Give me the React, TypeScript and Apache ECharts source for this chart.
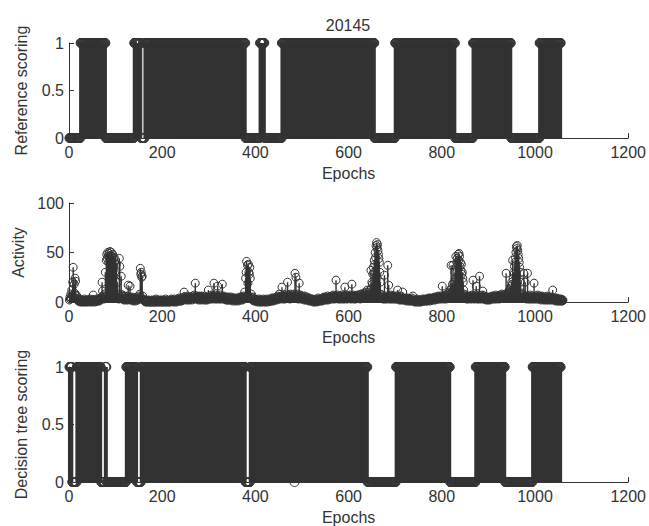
import React, { useEffect, useRef } from 'react';
import * as echarts from 'echarts';

const TITLE = '20145';
const X_LABEL = 'Epochs';
const Y_LABELS = ['Reference scoring', 'Activity', 'Decision tree scoring'];

// Reference scoring: epochs scored 1 (inclusive runs), recording length
const REF_LENGTH = 1055;
const refOnStart = [25, 140, 163, 410, 457, 700, 867, 1010];
const refOnEnd = [78, 154, 378, 419, 655, 828, 948, 1055];

// Decision tree scoring: epochs scored 1 (inclusive runs)
const DT_LENGTH = 1055;
const dtOnStart = [1, 17, 78, 123, 155, 389, 485, 702, 873, 995];
const dtOnEnd = [6, 68, 80, 145, 378, 483, 640, 817, 935, 1055];

// Activity per epoch (epoch 1..N), 20 epochs per line
const activity = [
  2, 5, 3, 8, 4, 12, 6, 20, 35, 5, 18, 9, 24, 21, 7, 4, 6, 3, 2, 1,
  2, 1, 3, 0, 1, 2, 1, 0, 2, 1, 0, 1, 3, 1, 0, 2, 1, 0, 1, 2,
  1, 0, 2, 1, 3, 1, 0, 2, 1, 2, 0, 7, 1, 2, 1, 0, 2, 1, 3, 1,
  2, 1, 3, 2, 1, 3, 2, 4, 3, 5, 20, 11, 4, 6, 3, 8, 5, 30, 6, 42,
  48, 44, 50, 46, 40, 49, 45, 51, 47, 43, 50, 46, 38, 48, 44, 36, 45, 40, 28, 42,
  6, 38, 5, 20, 4, 7, 3, 44, 36, 5, 8, 26, 6, 4, 7, 3, 5, 2, 6, 3,
  4, 2, 5, 3, 6, 2, 17, 4, 3, 5, 16, 2, 4, 3, 5, 2, 4, 1, 3, 2,
  2, 4, 1, 3, 2, 5, 3, 2, 6, 3, 4, 8, 34, 28, 30, 25, 26, 6, 3, 2,
  2, 1, 1, 0, 1, 2, 0, 1, 0, 1, 2, 0, 1, 0, 0, 1, 0, 2, 1, 0,
  0, 1, 2, 0, 1, 0, 3, 1, 0, 2, 1, 0, 1, 0, 2, 1, 0, 1, 2, 0,
  1, 0, 2, 1, 0, 1, 3, 0, 1, 0, 2, 1, 0, 1, 0, 2, 1, 0, 1, 3,
  2, 1, 0, 2, 1, 3, 0, 1, 2, 1, 0, 2, 3, 1, 2, 4, 1, 3, 2, 1,
  1, 3, 2, 4, 2, 5, 10, 3, 4, 2, 5, 3, 4, 6, 2, 3, 5, 2, 4, 3,
  5, 3, 4, 2, 6, 4, 5, 3, 7, 4, 19, 5, 3, 4, 6, 3, 5, 2, 4, 6,
  3, 5, 2, 4, 6, 3, 5, 4, 2, 3, 6, 4, 2, 5, 3, 4, 2, 3, 12, 5,
  4, 6, 3, 5, 4, 7, 3, 5, 6, 4, 19, 5, 3, 7, 4, 6, 3, 5, 16, 4,
  6, 3, 5, 4, 7, 3, 5, 4, 18, 5, 3, 6, 4, 5, 3, 4, 2, 5, 3, 2,
  4, 2, 5, 3, 2, 4, 3, 5, 2, 3, 1, 4, 2, 3, 4, 2, 1, 3, 2, 4,
  2, 3, 1, 4, 2, 3, 5, 2, 4, 3, 5, 2, 4, 6, 3, 5, 10, 4, 24, 30,
  41, 6, 37, 19, 38, 30, 28, 35, 24, 5, 8, 3, 4, 2, 5, 3, 1, 2, 3, 1,
  2, 1, 2, 0, 1, 2, 1, 3, 0, 2, 1, 0, 1, 2, 0, 1, 3, 1, 2, 0,
  1, 2, 0, 1, 3, 2, 1, 0, 2, 1, 3, 2, 1, 1, 4, 2, 3, 1, 4, 2,
  3, 2, 4, 3, 5, 2, 4, 6, 3, 5, 8, 4, 3, 5, 6, 4, 15, 5, 3, 6,
  4, 7, 3, 5, 6, 4, 8, 5, 20, 6, 4, 7, 5, 3, 6, 8, 4, 5, 7, 4,
  6, 5, 8, 4, 29, 6, 25, 7, 5, 4, 8, 3, 6, 19, 5, 4, 7, 3, 5, 4,
  6, 3, 5, 4, 2, 6, 3, 4, 2, 5, 3, 4, 2, 3, 1, 4, 2, 3, 1, 2,
  2, 1, 3, 0, 2, 1, 0, 2, 1, 3, 1, 0, 2, 1, 4, 2, 1, 3, 2, 1,
  2, 3, 1, 4, 2, 3, 5, 2, 4, 3, 5, 2, 4, 3, 6, 2, 4, 3, 5, 4,
  3, 5, 4, 6, 3, 5, 7, 4, 6, 3, 5, 4, 22, 6, 4, 5, 7, 3, 6, 4,
  5, 3, 6, 4, 7, 5, 3, 6, 4, 5, 3, 15, 6, 4, 5, 7, 3, 6, 4, 5,
  6, 4, 7, 5, 3, 6, 18, 4, 5, 7, 3, 6, 4, 5, 3, 6, 4, 7, 5, 4,
  6, 4, 7, 5, 3, 8, 5, 6, 4, 7, 5, 9, 6, 4, 8, 5, 7, 10, 6, 12,
  6, 8, 5, 10, 7, 12, 9, 32, 14, 20, 18, 28, 35, 30, 42, 38, 50, 45, 57, 60,
  55, 58, 52, 48, 44, 40, 30, 20, 8, 5, 7, 4, 6, 3, 5, 4, 27, 3, 5, 4,
  6, 3, 5, 37, 4, 17, 6, 3, 5, 4, 7, 3, 6, 4, 5, 3, 6, 4, 5, 3,
  4, 6, 3, 5, 12, 4, 3, 5, 2, 4, 3, 6, 2, 4, 3, 10, 2, 4, 3, 2,
  3, 2, 4, 1, 3, 2, 4, 2, 1, 3, 2, 1, 3, 2, 1, 4, 2, 6, 1, 2,
  1, 0, 2, 1, 0, 1, 3, 1, 0, 2, 1, 0, 1, 2, 0, 1, 2, 1, 3, 1,
  1, 2, 3, 1, 2, 1, 3, 2, 1, 3, 2, 4, 2, 3, 1, 4, 2, 3, 2, 4,
  3, 2, 4, 3, 5, 2, 4, 3, 5, 4, 3, 6, 4, 3, 5, 4, 6, 3, 5, 4,
  16, 4, 6, 3, 5, 4, 7, 5, 3, 6, 4, 8, 5, 7, 10, 6, 9, 12, 8, 37,
  14, 10, 18, 37, 12, 20, 15, 30, 24, 46, 35, 40, 44, 38, 48, 42, 49, 46, 36, 40,
  32, 38, 28, 30, 24, 20, 12, 8, 6, 4, 7, 5, 3, 6, 4, 5, 3, 6, 4, 5,
  4, 6, 3, 5, 7, 4, 22, 5, 3, 6, 4, 5, 7, 16, 3, 5, 4, 6, 3, 5,
  26, 4, 6, 3, 5, 4, 7, 11, 3, 5, 4, 6, 3, 5, 2, 4, 3, 5, 2, 4,
  3, 5, 2, 4, 3, 5, 4, 6, 3, 5, 4, 6, 3, 5, 4, 7, 3, 5, 4, 6,
  4, 6, 3, 5, 7, 4, 6, 5, 8, 4, 6, 5, 7, 4, 6, 8, 5, 29, 7, 6,
  9, 7, 10, 8, 12, 9, 14, 11, 16, 20, 18, 42, 24, 30, 28, 36, 40, 45, 50, 56,
  54, 57, 52, 48, 44, 40, 35, 30, 20, 8, 6, 9, 5, 7, 4, 29, 6, 5, 20, 4,
  6, 3, 5, 29, 4, 6, 3, 5, 4, 7, 3, 5, 4, 6, 3, 5, 4, 19, 3, 5,
  4, 6, 3, 5, 4, 7, 3, 5, 4, 6, 3, 5, 2, 4, 6, 3, 5, 4, 2, 4,
  3, 5, 2, 4, 3, 6, 2, 4, 3, 5, 2, 4, 3, 5, 2, 4, 3, 12, 2, 4,
  3, 2, 4, 1, 3, 2, 4, 1, 3, 2, 1, 3, 2, 1, 2, 3, 1, 2, 1, 2,
];

const X_MIN = 0;
const X_MAX = 1200;
const X_INTERVAL = 200;

const INK = '#333333';
const FONT = '"Liberation Sans", Arial, Helvetica, sans-serif';
const FS = 16;

function expandRuns(starts: number[], ends: number[], n: number): number[] {
  const out: number[] = [];
  for (let e = 1; e <= n; e++) {
    let v = 0;
    for (let k = 0; k < starts.length; k++) {
      if (e >= starts[k] && e <= ends[k]) v = 1;
    }
    out.push(v);
  }
  return out;
}

export default function App() {
  const ref = useRef<HTMLDivElement>(null);

  useEffect(() => {
    document.body.style.margin = '0';
    if (!ref.current) return;
    const chart = echarts.init(ref.current, undefined, { renderer: 'svg' });

    const refVals = expandRuns(refOnStart, refOnEnd, REF_LENGTH);
    const dtVals = expandRuns(dtOnStart, dtOnEnd, DT_LENGTH);
    const panels = [
      { vals: refVals, max: 1, interval: 0.5, stem: 3, size: 9 },
      { vals: activity, max: 100, interval: 50, stem: 1.4, size: 8 },
      { vals: dtVals, max: 1, interval: 0.5, stem: 3, size: 9 },
    ];
    const grids = [
      { left: 69, right: 20, top: 43, height: 95 },
      { left: 69, right: 20, top: 203, height: 99 },
      { left: 69, right: 20, top: 367, height: 116 },
    ];

    const axisLine = { show: true, lineStyle: { color: INK, width: 1 } };
    const axisTick = { show: true, inside: true, length: 5, lineStyle: { color: INK, width: 1 } };
    const labelStyle = { color: INK, fontSize: FS, fontFamily: FONT };

    const xAxis = grids.map((_, i) => ({
      gridIndex: i,
      type: 'value',
      min: X_MIN,
      max: X_MAX,
      interval: X_INTERVAL,
      name: X_LABEL,
      nameLocation: 'middle',
      nameGap: 27,
      nameTextStyle: labelStyle,
      axisLine,
      axisTick,
      axisLabel: { ...labelStyle, margin: 6, formatter: (v: number) => String(v) },
      splitLine: { show: false },
    }));
    const yAxis = panels.map((p, i) => ({
      gridIndex: i,
      type: 'value',
      min: 0,
      max: p.max,
      interval: p.interval,
      name: Y_LABELS[i],
      nameLocation: 'middle',
      nameGap: 40,
      nameTextStyle: labelStyle,
      axisLine,
      axisTick,
      axisLabel: { ...labelStyle, margin: 5, formatter: (v: number) => String(v) },
      splitLine: { show: false },
    }));

    const series: any[] = [];
    panels.forEach((p, i) => {
      const circlePts = p.vals.map((v, k) => [k + 1, v]);
      const stemPts = p.vals.map((v, k) => [k + 1, v]);
      const w = p.stem;
      // markers first, stems drawn on top of them
      series.push({
        type: 'scatter',
        xAxisIndex: i,
        yAxisIndex: i,
        data: circlePts,
        symbol: 'circle',
        symbolSize: p.size,
        itemStyle: { color: 'rgba(0,0,0,0)', borderColor: INK, borderWidth: 1, opacity: 1 },
        silent: true,
        clip: false,
        progressive: 0,
        z: 1,
      });
      series.push({
        type: 'custom',
        xAxisIndex: i,
        yAxisIndex: i,
        data: stemPts,
        encode: { x: 0, y: 1 },
        silent: true,
        progressive: 0,
        z: 3,
        renderItem: (_params: any, api: any) => {
          const x = api.value(0);
          const v = api.value(1);
          if (!v) return null;
          const p0 = api.coord([x, 0]);
          const p1 = api.coord([x, v]);
          return {
            type: 'line',
            shape: { x1: p0[0], y1: p0[1], x2: p1[0], y2: p1[1] },
            style: { stroke: INK, lineWidth: w },
          };
        },
      });
    });

    chart.setOption({
      animation: false,
      backgroundColor: '#ffffff',
      grid: grids,
      xAxis,
      yAxis,
      series,
      graphic: [
        {
          type: 'text',
          x: 348,
          y: 25,
          style: {
            text: TITLE,
            fill: INK,
            font: `${FS}px ${FONT}`,
            textAlign: 'center',
            textVerticalAlign: 'middle',
          },
        },
      ],
    });

    return () => chart.dispose();
  }, []);

  return <div ref={ref} style={{ width: 649, height: 526 }} />;
}
